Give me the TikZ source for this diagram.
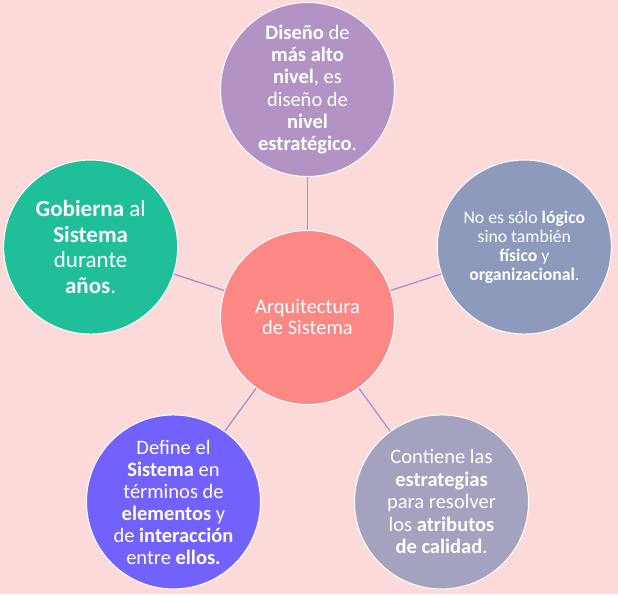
\documentclass[tikz,border=0pt]{standalone}
\usepackage{fontspec}
\setmainfont{Carlito}

\definecolor{hintergrund}{HTML}{FDDADA}
\definecolor{linie}{HTML}{A88FD0}
\definecolor{mittelrot}{HTML}{FC8886}
\definecolor{lila}{HTML}{B393C3}
\definecolor{graublau}{HTML}{8E9ABB}
\definecolor{tuerkis}{HTML}{1FBF99}
\definecolor{violett}{HTML}{7162FD}
\definecolor{graulila}{HTML}{A3A3BF}

\tikzset{
  kreis/.style={circle, minimum size=174pt, inner sep=0pt, draw=white,
    line width=1pt, text=white, align=center},
  verbindung/.style={draw=linie, line width=1.3pt}
}

\begin{document}
\begin{tikzpicture}[x=1pt, y=1pt]
				      % Hintergrund
				      \fill[hintergrund] (-307.5,-276.5) rectangle (310.5,317.5);
				      \useasboundingbox (-307.5,-276.5) rectangle (310.5,317.5);

				      % Mittelkreis
				      \node[kreis, fill=mittelrot, font=\fontsize{20.5}{21}\selectfont] (mitte) at (0,0)
				            {Arquitectura\\de Sistema};

				      % Äußere Kreise (Fünfeck, Radius 228)
				      \node[kreis, fill=lila, font=\fontsize{20.5}{22.2}\selectfont] (oben) at (90:228)
				            {\textbf{Diseño} de\\\textbf{más alto}\\\textbf{nivel}, es\\diseño de\\\textbf{nivel}\\\textbf{estratégico}.};
				      \node[kreis, fill=graublau, font=\fontsize{17.7}{19}\selectfont] (rechts) at (18:228)
				            {No es sólo \textbf{lógico}\\sino también\\\textbf{físico} y\\\textbf{organizacional}.};
				      \node[kreis, fill=graulila, font=\fontsize{20.5}{22.5}\selectfont] (rechtsunten) at (-54:228)
				            {Contiene las\\\textbf{estrategias}\\para resolver\\los \textbf{atributos}\\\textbf{de calidad}.};
				      \node[kreis, fill=violett, font=\fontsize{20.5}{22}\selectfont] (linksunten) at (234:228)
				            {Define el\\\textbf{Sistema} en\\términos de\\\textbf{elementos} y\\de \textbf{interacción}\\entre \textbf{ellos.}};
				      \node[kreis, fill=tuerkis, font=\fontsize{23}{25.5}\selectfont] (links) at (162:228)
				            {\textbf{Gobierna} al\\\textbf{Sistema}\\durante\\\textbf{años}.};

				      % Verbindungslinien
				      \foreach \ziel in {oben, rechts, rechtsunten, linksunten, links}
				            \draw[verbindung] (mitte) -- (\ziel);
			      \end{tikzpicture}
\end{document}
